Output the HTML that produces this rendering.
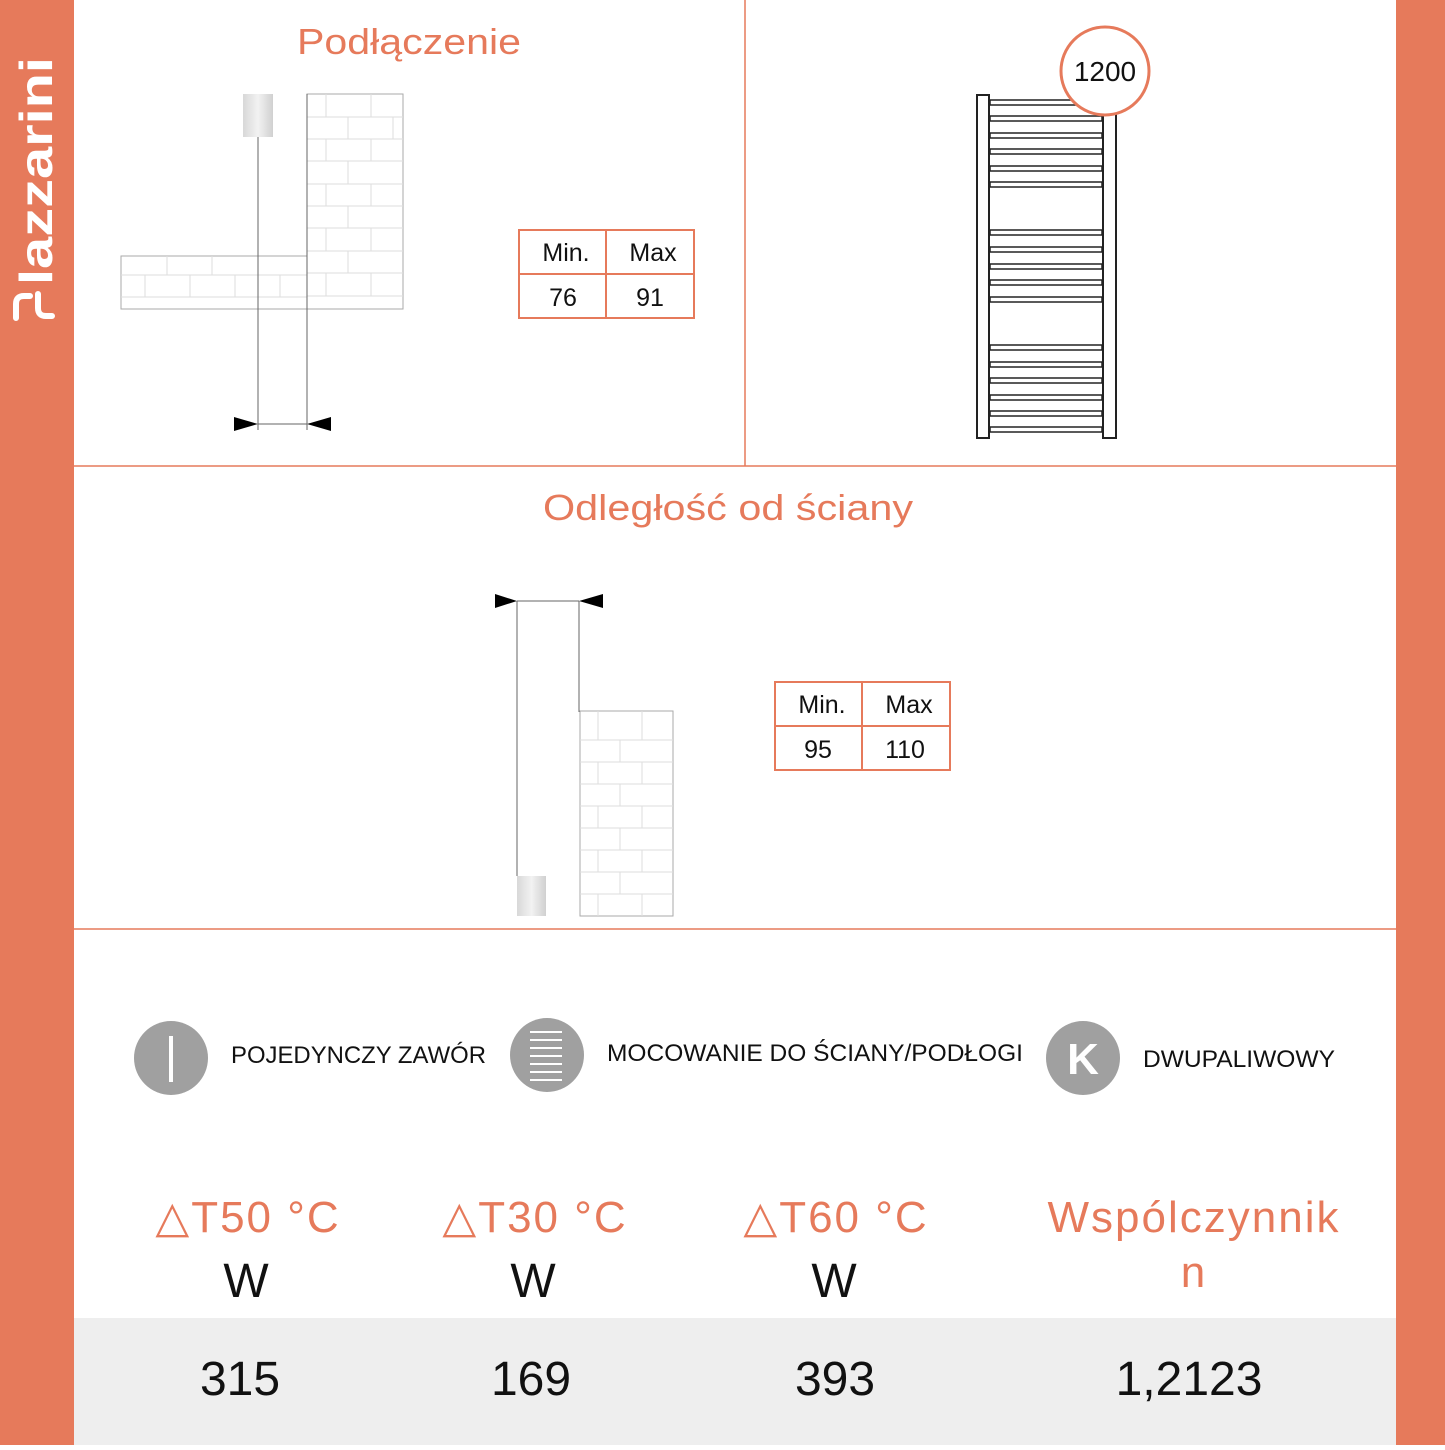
<!DOCTYPE html>
<html><head><meta charset="utf-8"><style>
body{margin:0;width:1445px;height:1445px;background:#fff;overflow:hidden;font-family:"Liberation Sans",sans-serif}
</style></head><body>
<svg width="1445" height="1445" viewBox="0 0 1445 1445" xmlns="http://www.w3.org/2000/svg" font-family="Liberation Sans, DejaVu Sans, sans-serif">
<rect x="0" y="0" width="74" height="1445" fill="#E67A5B"/>
<rect x="1396" y="0" width="49" height="1445" fill="#E67A5B"/>
<rect x="74" y="1318" width="1322" height="127" fill="#EEEEEE"/>
<text transform="translate(52,285) rotate(-90)" font-size="46" font-weight="bold" fill="#fff" textLength="228" lengthAdjust="spacingAndGlyphs">lazzarini</text>
<path d="M16 318 L16 304 Q16 296 24 296 L30 296 M38 294 L38 308 Q38 316 46 316 L52 316" stroke="#fff" stroke-width="6" fill="none" stroke-linecap="round"/>
<line x1="745" y1="0" x2="745" y2="466" stroke="#E67A5B" stroke-width="1.5"/>
<line x1="74" y1="466" x2="1396" y2="466" stroke="#E67A5B" stroke-width="1.5"/>
<line x1="74" y1="929" x2="1396" y2="929" stroke="#E67A5B" stroke-width="1.5"/>
<text x="297" y="54" font-size="36" fill="#E67A5B" textLength="224" lengthAdjust="spacingAndGlyphs">Podłączenie</text>
<text x="543" y="520" font-size="36" fill="#E67A5B" textLength="370" lengthAdjust="spacingAndGlyphs">Odległość od ściany</text>
<!-- diagram 1 -->
<g stroke="#ddd" stroke-width="1" fill="none">
<rect x="307" y="94" width="96" height="215" stroke="#aaa"/>
<line x1="307" y1="117" x2="403" y2="117"/><line x1="307" y1="139" x2="403" y2="139"/><line x1="307" y1="161" x2="403" y2="161"/><line x1="307" y1="184" x2="403" y2="184"/><line x1="307" y1="206" x2="403" y2="206"/><line x1="307" y1="228" x2="403" y2="228"/><line x1="307" y1="251" x2="403" y2="251"/><line x1="307" y1="273" x2="403" y2="273"/><line x1="307" y1="296" x2="403" y2="296"/>
<rect x="121" y="256" width="186" height="53" stroke="#aaa"/>
<line x1="121" y1="275" x2="307" y2="275"/><line x1="121" y1="297" x2="307" y2="297"/>
<line x1="167" y1="256" x2="167" y2="275"/><line x1="212" y1="256" x2="212" y2="275"/><line x1="145" y1="275" x2="145" y2="297"/><line x1="190" y1="275" x2="190" y2="297"/><line x1="235" y1="275" x2="235" y2="297"/><line x1="280" y1="275" x2="280" y2="297"/>
<line x1="326" y1="94" x2="326" y2="117"/><line x1="371" y1="94" x2="371" y2="117"/><line x1="348" y1="117" x2="348" y2="139"/><line x1="393" y1="117" x2="393" y2="139"/><line x1="326" y1="139" x2="326" y2="161"/><line x1="371" y1="139" x2="371" y2="161"/><line x1="348" y1="161" x2="348" y2="184"/><line x1="326" y1="184" x2="326" y2="206"/><line x1="371" y1="184" x2="371" y2="206"/><line x1="348" y1="206" x2="348" y2="228"/><line x1="326" y1="228" x2="326" y2="251"/><line x1="371" y1="228" x2="371" y2="251"/><line x1="348" y1="251" x2="348" y2="273"/><line x1="326" y1="273" x2="326" y2="296"/><line x1="371" y1="273" x2="371" y2="296"/>
</g>
<defs><linearGradient id="g" x1="0" x2="1"><stop offset="0" stop-color="#d8d8d8"/><stop offset=".5" stop-color="#f2f2f2"/><stop offset="1" stop-color="#d0d0d0"/></linearGradient></defs>
<rect x="243" y="94" width="30" height="43" fill="url(#g)"/>
<line x1="258" y1="137" x2="258" y2="430" stroke="#666" stroke-width="1"/>
<line x1="307" y1="94" x2="307" y2="430" stroke="#666" stroke-width="1"/>
<line x1="258" y1="424" x2="307" y2="424" stroke="#666"/>
<polygon points="234,417 258,424 234,431" fill="#000"/><polygon points="331,417 307,424 331,431" fill="#000"/>
<!-- tables -->
<g stroke="#E67A5B" stroke-width="2" fill="none">
<rect x="519" y="230" width="175" height="88"/><line x1="519" y1="274" x2="694" y2="274"/><line x1="606" y1="230" x2="606" y2="318"/>
<rect x="775" y="682" width="175" height="88"/><line x1="775" y1="726" x2="950" y2="726"/><line x1="862" y1="682" x2="862" y2="770"/>
</g>
<g font-size="25" fill="#111" text-anchor="middle">
<text x="566" y="261">Min.</text><text x="653" y="261">Max</text><text x="563" y="306">76</text><text x="650" y="306">91</text>
<text x="822" y="713">Min.</text><text x="909" y="713">Max</text><text x="818" y="758">95</text><text x="905" y="758">110</text>
</g>
<!-- radiator -->
<g stroke="#222" stroke-width="2" fill="#fff">
<rect x="977" y="95" width="12" height="343"/><rect x="1103" y="95" width="13" height="343"/>
<g stroke-width="1.5">
<rect x="990" y="100" width="112" height="5"/><rect x="990" y="116" width="112" height="5"/><rect x="990" y="133" width="112" height="5"/><rect x="990" y="149" width="112" height="5"/><rect x="990" y="166" width="112" height="5"/><rect x="990" y="182" width="112" height="5"/>
<rect x="990" y="230" width="112" height="5"/><rect x="990" y="247" width="112" height="5"/><rect x="990" y="264" width="112" height="5"/><rect x="990" y="280" width="112" height="5"/><rect x="990" y="297" width="112" height="5"/>
<rect x="990" y="345" width="112" height="5"/><rect x="990" y="362" width="112" height="5"/><rect x="990" y="378" width="112" height="5"/><rect x="990" y="395" width="112" height="5"/><rect x="990" y="411" width="112" height="5"/><rect x="990" y="427" width="112" height="5"/>
</g></g>
<circle cx="1105" cy="71" r="44" fill="#fff" stroke="#E67A5B" stroke-width="3"/>
<text x="1105" y="81" font-size="28" text-anchor="middle" fill="#111">1200</text>
<!-- diagram 2 -->
<line x1="517" y1="601" x2="517" y2="876" stroke="#666"/><line x1="579" y1="601" x2="579" y2="712" stroke="#666"/>
<line x1="517" y1="601" x2="579" y2="601" stroke="#666"/>
<polygon points="495,594 517,601 495,608" fill="#000"/><polygon points="603,594 579,601 603,608" fill="#000"/>
<rect x="517" y="876" width="29" height="40" fill="url(#g)"/>
<g stroke="#ddd" fill="none">
<rect x="580" y="711" width="93" height="205" stroke="#aaa"/>
<line x1="580" y1="740" x2="673" y2="740"/><line x1="580" y1="762" x2="673" y2="762"/><line x1="580" y1="784" x2="673" y2="784"/><line x1="580" y1="806" x2="673" y2="806"/><line x1="580" y1="828" x2="673" y2="828"/><line x1="580" y1="850" x2="673" y2="850"/><line x1="580" y1="872" x2="673" y2="872"/><line x1="580" y1="894" x2="673" y2="894"/>
<line x1="598" y1="711" x2="598" y2="740"/><line x1="642" y1="711" x2="642" y2="740"/><line x1="620" y1="740" x2="620" y2="762"/><line x1="598" y1="762" x2="598" y2="784"/><line x1="642" y1="762" x2="642" y2="784"/><line x1="620" y1="784" x2="620" y2="806"/><line x1="598" y1="806" x2="598" y2="828"/><line x1="642" y1="806" x2="642" y2="828"/><line x1="620" y1="828" x2="620" y2="850"/><line x1="598" y1="850" x2="598" y2="872"/><line x1="642" y1="850" x2="642" y2="872"/><line x1="620" y1="872" x2="620" y2="894"/><line x1="598" y1="894" x2="598" y2="916"/><line x1="642" y1="894" x2="642" y2="916"/>
</g>
<!-- icons -->
<circle cx="171" cy="1058" r="37" fill="#a0a0a0"/><rect x="169" y="1036" width="4" height="46" fill="#fff"/>
<circle cx="547" cy="1055" r="37" fill="#a0a0a0"/>
<g stroke="#fff" stroke-width="2"><line x1="530" y1="1032" x2="562" y2="1032"/><line x1="530" y1="1040" x2="562" y2="1040"/><line x1="530" y1="1048" x2="562" y2="1048"/><line x1="530" y1="1056" x2="562" y2="1056"/><line x1="530" y1="1064" x2="562" y2="1064"/><line x1="530" y1="1072" x2="562" y2="1072"/><line x1="530" y1="1080" x2="562" y2="1080"/></g>
<circle cx="1083" cy="1058" r="37" fill="#a0a0a0"/>
<text x="1083" y="1074" font-size="44" font-weight="bold" fill="#fff" text-anchor="middle">K</text>
<g font-size="24" fill="#111">
<text x="231" y="1063" textLength="255" lengthAdjust="spacingAndGlyphs">POJEDYNCZY ZAWÓR</text>
<text x="607" y="1061" textLength="416" lengthAdjust="spacingAndGlyphs">MOCOWANIE DO ŚCIANY/PODŁOGI</text>
<text x="1143" y="1067" textLength="192" lengthAdjust="spacingAndGlyphs">DWUPALIWOWY</text>
</g>
<g font-size="44" fill="#E67A5B" text-anchor="middle" letter-spacing="2">
<text x="248" y="1232">△T50 °C</text><text x="535" y="1232">△T30 °C</text><text x="836" y="1232">△T60 °C</text>
<text x="1194" y="1232">Wspólczynnik</text><text x="1194" y="1287">n</text>
</g>
<g font-size="48" fill="#111" text-anchor="middle">
<text x="246" y="1297">W</text><text x="533" y="1297">W</text><text x="834" y="1297">W</text>
<text x="240" y="1395">315</text><text x="531" y="1395">169</text><text x="835" y="1395">393</text><text x="1189" y="1395">1,2123</text>
</g>
</svg>
</body></html>
